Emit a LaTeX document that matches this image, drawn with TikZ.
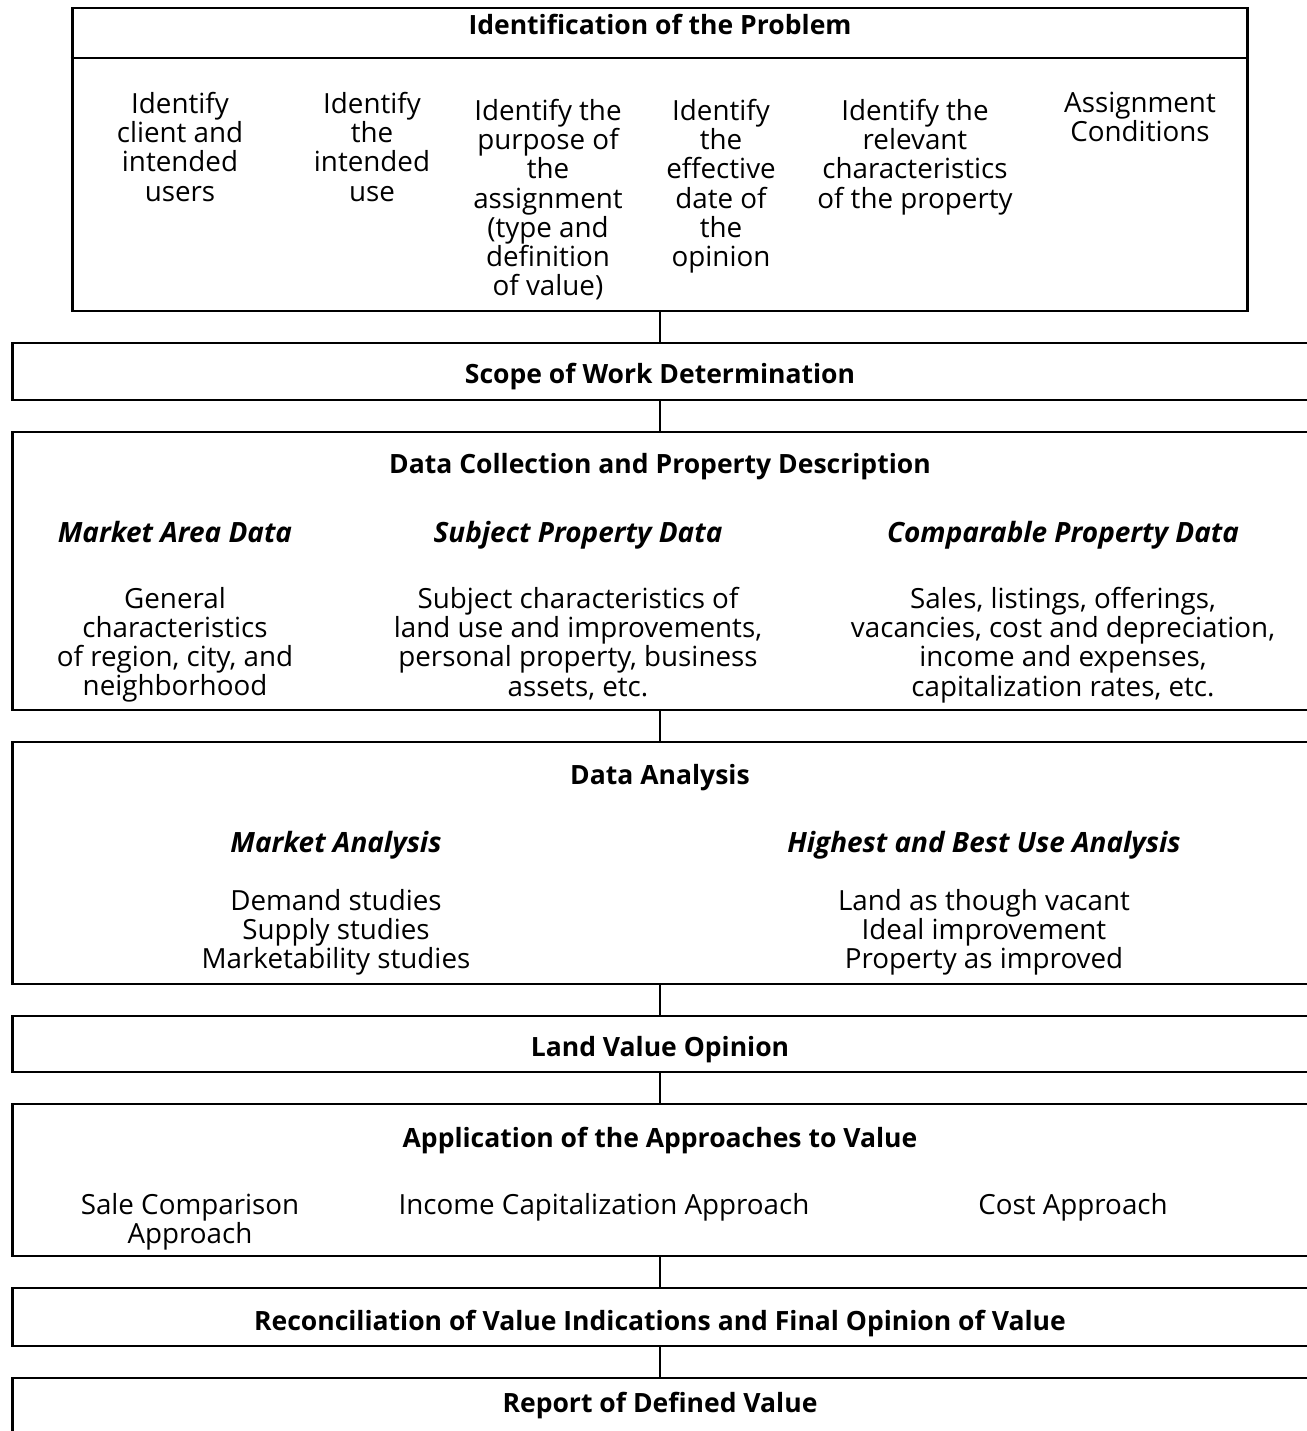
\documentclass[tikz,border=0pt]{standalone}
\usepackage{fontspec}
\setmainfont{Open Sans}
\usetikzlibrary{positioning}
\newcommand{\bodysize}{\fontsize{15.8}{16.6}\selectfont}
\tikzset{
  frame/.style={draw,line width=1.6pt,rectangle,inner sep=0pt},
  link/.style={line width=1.6pt},
  title/.style={font=\fontsize{15.1}{16.6}\selectfont\bfseries,anchor=base,inner sep=0pt},
  subhead/.style={font=\fontsize{15.9}{16.6}\selectfont\bfseries\itshape,anchor=base,inner sep=0pt},
  body/.style={font=\bodysize,align=center,anchor=north,inner sep=0pt},
  every picture/.style={x=0.02cm,y=-0.02cm}
}
\begin{document}
\begin{tikzpicture}[font=\bodysize]
  \clip (0,0) rectangle (1307,1431);
  % --- boxes
  \node[frame,minimum width=23.52cm,minimum height=6.06cm] (prob) at (660,159.5) {};
  \node[frame,minimum width=26.16cm,minimum height=1.14cm] (scope) at (666,371.5) {};
  \node[frame,minimum width=26.16cm,minimum height=5.56cm] (data) at (666,571) {};
  \node[frame,minimum width=26.16cm,minimum height=4.84cm] (anal) at (666,863) {};
  \node[frame,minimum width=26.16cm,minimum height=1.12cm] (land) at (666,1044) {};
  \node[frame,minimum width=26.16cm,minimum height=3.04cm] (appr) at (666,1180) {};
  \node[frame,minimum width=26.16cm,minimum height=1.16cm] (recon) at (666,1317) {};
  \node[frame,minimum width=26.16cm,minimum height=1.64cm] (report) at (666,1419) {};
  \coordinate (spine) at (660,0);
  % --- connectors
  \draw[link] (prob.south) -- (spine |- scope.north);
  \foreach \a/\b in {scope/data,data/anal,anal/land,land/appr,appr/recon,recon/report}
    \draw[link] (spine |- \a.south) -- (spine |- \b.north);
  % --- identification of the problem
  \coordinate (hline) at (0,58);
  \draw[link] (prob.west |- hline) -- (prob.east |- hline);
  \node[title] (probt) at (660,34) {Identification of the Problem};
  \node[body] (p1) at (180,92) {Identify\\client and\\intended\\users};
  \node[body] (p2) at (372,92) {Identify\\the\\intended\\use};
  \node[body] (p3) at (548,99) {Identify the\\purpose of\\the\\assignment\\(type and\\definition\\of value)};
  \node[body] (p4) at (721,99) {Identify\\the\\effective\\date of\\the\\opinion};
  \node[body] (p5) at (915,99) {Identify the\\relevant\\characteristics\\of the property};
  \node[body] (p6) at (1140,92) {Assignment\\Conditions};
  % --- scope
  \node[title] (scopet) at (660,383) {Scope of Work Determination};
  % --- data collection
  \node[title] (datat) at (660,473) {Data Collection and Property Description};
  \node[subhead] (d1h) at (175,542) {Market Area Data};
  \node[subhead] (d2h) at (578,542) {Subject Property Data};
  \node[subhead] (d3h) at (1063,542) {Comparable Property Data};
  \node[body] (d1) at (175,587) {General\\characteristics\\of region, city, and\\neighborhood};
  \node[body] (d2) at (578,587) {Subject characteristics of\\land use and improvements,\\personal property, business\\assets, etc.};
  \node[body] (d3) at (1063,587) {Sales, listings, offerings,\\vacancies, cost and depreciation,\\income and expenses,\\capitalization rates, etc.};
  % --- data analysis
  \node[title] (analt) at (660,784) {Data Analysis};
  \node[subhead] (a1h) at (336,852) {Market Analysis};
  \node[subhead] (a2h) at (984,852) {Highest and Best Use Analysis};
  \node[body] (a1) at (336,889) {Demand studies\\Supply studies\\Marketability studies};
  \node[body] (a2) at (984,889) {Land as though vacant\\Ideal improvement\\Property as improved};
  % --- land value
  \node[title] (landt) at (660,1056) {Land Value Opinion};
  % --- approaches
  \node[title] (apprt) at (660,1147) {Application of the Approaches to Value};
  \node[body] (ap1) at (190,1193) {Sale Comparison\\Approach};
  \node[body] (ap2) at (604,1193) {Income Capitalization Approach};
  \node[body] (ap3) at (1073,1193) {Cost Approach};
  % --- reconciliation and report
  \node[title] (recont) at (660,1330) {Reconciliation of Value Indications and Final Opinion of Value};
  \node[title] (reportt) at (660,1412) {Report of Defined Value};
\end{tikzpicture}
\end{document}
